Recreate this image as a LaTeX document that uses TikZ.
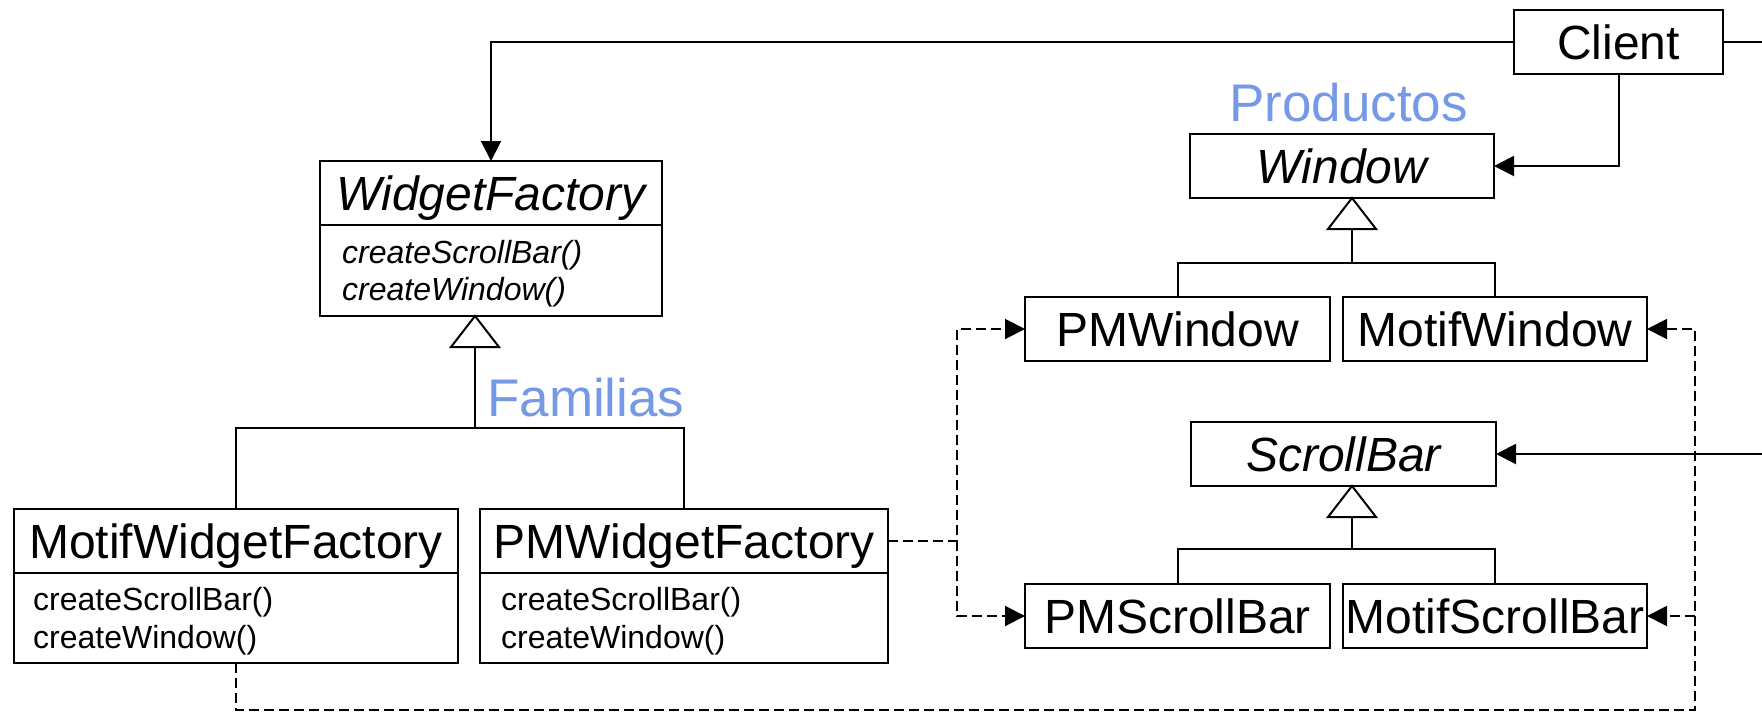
\documentclass[tikz,border=0pt]{standalone}
\usepackage{fontspec}
\setmainfont{Liberation Sans}
\usetikzlibrary{arrows.meta}
\definecolor{fam}{RGB}{118,153,229}
\begin{document}
\begin{tikzpicture}[x=1pt,y={(0pt,-1pt)},
 box/.style={draw,line width=2pt,inner sep=0pt,outer sep=0pt,text height=34pt,text depth=0pt,font=\fontsize{48pt}{58pt}\selectfont},
 mbox/.style={draw,line width=2pt,inner sep=0pt,outer sep=0pt},
 meth/.style={inner sep=0pt,anchor=base west,font=\fontsize{32pt}{38pt}\selectfont},
 lbl/.style={inner sep=0pt,anchor=base west,text=fam,font=\fontsize{53pt}{60pt}\selectfont},
 conn/.style={line width=2pt},
 stem/.style={line width=2.6pt},
 assoc/.style={line width=2pt,-{Triangle[length=20pt,width=20pt]}},
 dep/.style={line width=2pt,dash pattern=on 10pt off 5pt,-{Triangle[length=20pt,width=20pt]}},
 gen/.style={draw,line width=2pt,fill=white,line join=miter}
]
\useasboundingbox (0,0) rectangle (1762,713);
\clip (0,0) rectangle (1762,713);

% classes
\node[box,minimum width=209pt,minimum height=64pt] (client) at (1618.5,42) {Client};
\node[box,minimum width=342pt,minimum height=64pt] (wf) at (491,193) {\itshape WidgetFactory};
\node[mbox,minimum width=342pt,minimum height=91pt,anchor=north] (wfm) at (wf.south) {};
\node[box,minimum width=444pt,minimum height=64pt] (mwf) at (236,541) {MotifWidgetFactory};
\node[mbox,minimum width=444pt,minimum height=90pt,anchor=north] (mwfm) at (mwf.south) {};
\node[box,minimum width=408pt,minimum height=64pt] (pwf) at (684,541) {PMWidgetFactory};
\node[mbox,minimum width=408pt,minimum height=90pt,anchor=north] (pwfm) at (pwf.south) {};
\node[box,minimum width=304pt,minimum height=64pt] (win) at (1342,166) {\itshape Window};
\node[box,minimum width=305pt,minimum height=64pt] (sb) at (1343.5,454) {\itshape ScrollBar};
\node[box,minimum width=305pt,minimum height=64pt] (pmw) at (1177.5,329) {PMWindow};
\node[box,minimum width=304pt,minimum height=64pt] (mw) at (1495,329) {MotifWindow};
\node[box,minimum width=305pt,minimum height=64pt] (pmsb) at (1177.5,616) {PMScrollBar};
\node[box,minimum width=304pt,minimum height=64pt] (msb) at (1495,616) {MotifScrollBar};

% methods
\node[meth] (wf1) at (342,263) {\itshape createScrollBar()};
\node[meth] (wf2) at (342,300) {\itshape createWindow()};
\node[meth] (m1) at (33,610) {createScrollBar()};
\node[meth] (m2) at (33,648) {createWindow()};
\node[meth] (p1) at (501,610) {createScrollBar()};
\node[meth] (p2) at (501,648) {createWindow()};

% labels
\node[lbl] (fam) at (487,416) {Familias};
\node[lbl] (prod) at (1229,121) {Productos};

% client associations
\coordinate (offr) at (1800,0);
\draw[assoc] (client.west) -| (wf.north);
\draw[assoc] (client.south) |- (win.east);
\draw[assoc] (client.east) -- (client.east -| offr) |- (sb.east);

% generalisation: WidgetFactory
\coordinate (wft) at (475,316);
\coordinate (wfb) at (475,347);
\coordinate (wfj) at (475,428);
\draw[stem] (wfb) -- (wfj);
\draw[conn] (mwf.north) |- (wfj) -| (pwf.north);
\draw[gen] (wft) -- ++(24,31) -- ++(-48,0) -- cycle;

% generalisation: Window
\coordinate (wt) at (1352,198);
\coordinate (wb) at (1352,229);
\coordinate (wj) at (1352,263);
\draw[stem] (wb) -- (wj);
\draw[conn] (pmw.north) |- (wj) -| (mw.north);
\draw[gen] (wt) -- ++(24,31) -- ++(-48,0) -- cycle;

% generalisation: ScrollBar
\coordinate (st) at (1352,486);
\coordinate (sbb) at (1352,517);
\coordinate (sj) at (1352,549);
\draw[stem] (sbb) -- (sj);
\draw[conn] (pmsb.north) |- (sj) -| (msb.north);
\draw[gen] (st) -- ++(24,31) -- ++(-48,0) -- cycle;

% dependencies
\coordinate (jl) at (957,541);
\draw[dep] (pwf.east) -- (jl) |- (pmw.west);
\draw[dep] (jl) |- (pmsb.west);
\coordinate (jb) at (1695,710);
\coordinate (jr) at (1695,616);
\draw[dep] (mwfm.south) |- (jb) -- (jr) |- (mw.east);
\draw[dep] (jr) -- (msb.east);
\end{tikzpicture}
\end{document}
